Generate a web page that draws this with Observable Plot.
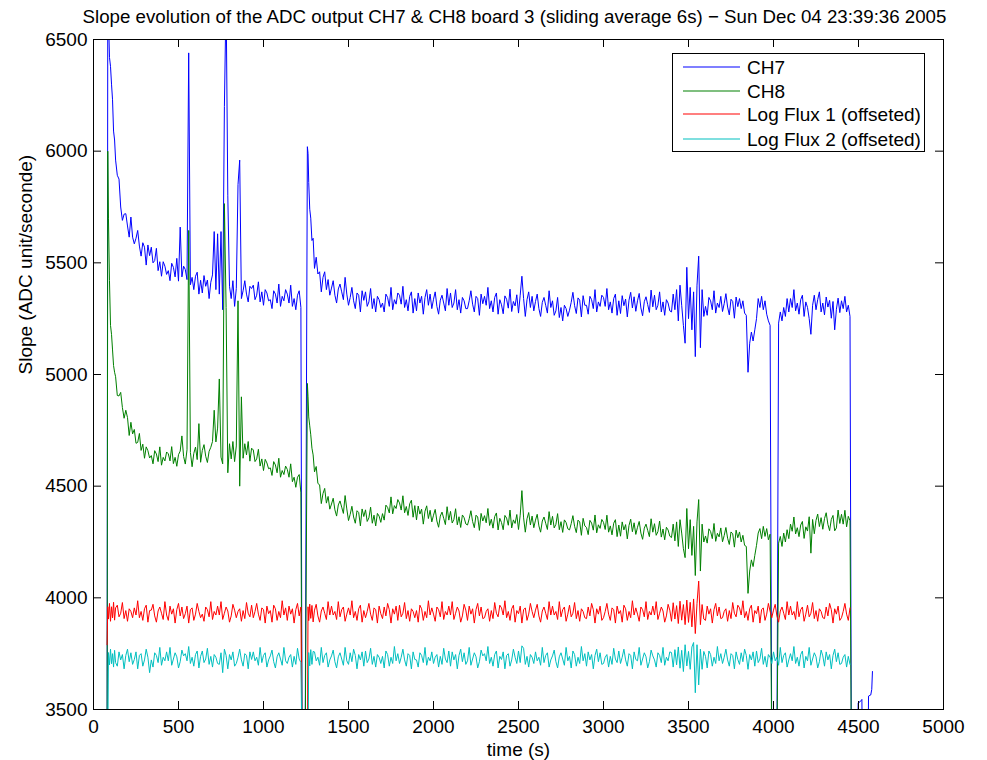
<!DOCTYPE html>
<html>
<head>
<meta charset="utf-8">
<script src="https://cdn.jsdelivr.net/npm/d3@7"></script>
<script src="https://cdn.jsdelivr.net/npm/@observablehq/plot@0.6"></script>
<style>
  html, body { margin: 0; padding: 0; background: #fff; }
  #wrap { position: relative; width: 987px; height: 760px; }
  #legend { position: absolute; left: 672px; top: 53px; }
</style>
</head>
<body>
<div id="wrap"></div>
<script>
// Time stamps (s) of the sliding-average samples
const time = [
  80, 84, 88, 94, 100, 106, 112, 118, 124, 130,
  140, 150, 160, 170, 180, 190, 200, 210, 220, 230,
  240, 250, 260, 270, 280, 290, 300, 310, 320, 330,
  340, 350, 360, 370, 380, 390, 400, 410, 420, 430,
  440, 450, 460, 470, 480, 490, 500, 510, 520, 530,
  540, 550, 560, 570, 580, 590, 600, 610, 620, 630,
  640, 650, 660, 670, 680, 690, 700, 710, 720, 730,
  740, 750, 760, 770, 780, 790, 800, 810, 820, 830,
  840, 850, 860, 870, 880, 890, 900, 910, 920, 930,
  940, 950, 960, 970, 980, 990, 1000, 1010, 1020, 1030,
  1040, 1050, 1060, 1070, 1080, 1090, 1100, 1110, 1120, 1130,
  1140, 1150, 1160, 1170, 1180, 1190, 1200, 1210, 1220,
  1227, 1245, 1258, 1262, 1266, 1272, 1278, 1285, 1292,
  1300, 1310, 1320, 1330, 1340, 1350, 1360, 1370, 1380, 1390,
  1400, 1410, 1420, 1430, 1440, 1450, 1460, 1470, 1480, 1490,
  1500, 1510, 1520, 1530, 1540, 1550, 1560, 1570, 1580, 1590,
  1600, 1610, 1620, 1630, 1640, 1650, 1660, 1670, 1680, 1690,
  1700, 1710, 1720, 1730, 1740, 1750, 1760, 1770, 1780, 1790,
  1800, 1810, 1820, 1830, 1840, 1850, 1860, 1870, 1880, 1890,
  1900, 1910, 1920, 1930, 1940, 1950, 1960, 1970, 1980, 1990,
  2000, 2010, 2020, 2030, 2040, 2050, 2060, 2070, 2080, 2090,
  2100, 2110, 2120, 2130, 2140, 2150, 2160, 2170, 2180, 2190,
  2200, 2210, 2220, 2230, 2240, 2250, 2260, 2270, 2280, 2290,
  2300, 2310, 2320, 2330, 2340, 2350, 2360, 2370, 2380, 2390,
  2400, 2410, 2420, 2430, 2440, 2450, 2460, 2470, 2480, 2490,
  2500, 2510, 2520, 2530, 2540, 2550, 2560, 2570, 2580, 2590,
  2600, 2610, 2620, 2630, 2640, 2650, 2660, 2670, 2680, 2690,
  2700, 2710, 2720, 2730, 2740, 2750, 2760, 2770, 2780, 2790,
  2800, 2810, 2820, 2830, 2840, 2850, 2860, 2870, 2880, 2890,
  2900, 2910, 2920, 2930, 2940, 2950, 2960, 2970, 2980, 2990,
  3000, 3010, 3020, 3030, 3040, 3050, 3060, 3070, 3080, 3090,
  3100, 3110, 3120, 3130, 3140, 3150, 3160, 3170, 3180, 3190,
  3200, 3210, 3220, 3230, 3240, 3250, 3260, 3270, 3280, 3290,
  3300, 3310, 3320, 3330, 3340, 3350, 3360, 3370, 3380, 3390,
  3400, 3410, 3420, 3430, 3440, 3450, 3460, 3470, 3480, 3490,
  3500, 3510, 3520, 3530, 3540, 3550, 3560, 3570, 3580, 3590,
  3600, 3610, 3620, 3630, 3640, 3650, 3660, 3670, 3680, 3690,
  3700, 3710, 3720, 3730, 3740, 3750, 3760, 3770, 3780, 3790,
  3800, 3810, 3820, 3830, 3840, 3850, 3860, 3870, 3880, 3890,
  3900, 3910, 3920, 3930, 3940, 3950, 3960, 3970, 3980, 3990,
  4000, 4010, 4020, 4030, 4040, 4050, 4060, 4070, 4080, 4090,
  4100, 4110, 4120, 4130, 4140, 4150, 4160, 4170, 4180, 4190,
  4200, 4210, 4220, 4230, 4240, 4250, 4260, 4270, 4280, 4290,
  4300, 4310, 4320, 4330, 4340, 4350, 4360, 4370, 4380, 4390,
  4400, 4410, 4420, 4430, 4440, 4450,
  4458, 4470, 4495, 4498, 4510, 4520, 4523, 4556, 4559, 4572, 4578, 4582
];

// CH7 slope (ADC unit / s)
const ch7 = [
  3300, 6700, 6600, 6420, 6380, 6300, 6230, 6090, 6050, 5960,
  5892, 5875, 5750, 5690, 5718, 5720, 5665, 5615, 5705, 5615,
  5585, 5610, 5645, 5575, 5530, 5590, 5570, 5490, 5580, 5532,
  5570, 5500, 5510, 5565, 5465, 5505, 5440, 5505, 5485, 5448,
  5465, 5420, 5498, 5480, 5437, 5520, 5418, 5660, 5437, 5485,
  5470, 5425, 6440, 5402, 5435, 5380, 5440, 5458, 5360, 5422,
  5365, 5443, 5395, 5423, 5340, 5413, 5446, 5640, 5380, 5630,
  5360, 5640, 5290, 6200, 6700, 5800, 5395, 5340, 5420, 5305,
  5385, 5850, 5960, 5340, 5375, 5420, 5360, 5325, 5395, 5385,
  5400, 5335, 5355, 5415, 5325, 5370, 5310, 5380, 5365, 5330,
  5335, 5295, 5375, 5360, 5320, 5405, 5305, 5350, 5330, 5380,
  5360, 5320, 5400, 5305, 5340, 5290, 5355, 5375, 5300,
  3300, 3300, 6020, 5990, 5860, 5740, 5700, 5600, 5610,
  5475, 5525, 5450, 5460, 5370, 5435, 5460, 5380, 5425, 5355,
  5387, 5420, 5355, 5320, 5383, 5405, 5370, 5335, 5435, 5360,
  5310, 5345, 5390, 5330, 5295, 5365, 5355, 5280, 5375, 5332,
  5370, 5305, 5325, 5385, 5295, 5340, 5280, 5350, 5335, 5300,
  5320, 5280, 5360, 5345, 5305, 5390, 5290, 5335, 5315, 5365,
  5355, 5315, 5395, 5300, 5335, 5285, 5350, 5370, 5275, 5340,
  5285, 5365, 5320, 5350, 5270, 5345, 5380, 5310, 5360, 5295,
  5337, 5370, 5305, 5270, 5333, 5355, 5320, 5285, 5385, 5310,
  5365, 5300, 5320, 5380, 5290, 5335, 5275, 5345, 5330, 5295,
  5295, 5330, 5375, 5315, 5280, 5350, 5340, 5265, 5360, 5317,
  5350, 5310, 5390, 5295, 5330, 5280, 5345, 5365, 5270, 5335,
  5312, 5272, 5352, 5337, 5297, 5382, 5282, 5327, 5307, 5357,
  5275, 5355, 5440, 5340, 5260, 5335, 5370, 5300, 5350, 5285,
  5327, 5360, 5295, 5260, 5323, 5345, 5310, 5275, 5375, 5300,
  5330, 5265, 5285, 5345, 5255, 5300, 5240, 5310, 5295, 5260,
  5288, 5323, 5368, 5308, 5273, 5343, 5333, 5258, 5353, 5310,
  5310, 5270, 5350, 5335, 5295, 5380, 5280, 5325, 5305, 5355,
  5345, 5305, 5385, 5290, 5325, 5275, 5340, 5360, 5265, 5330,
  5273, 5353, 5308, 5338, 5258, 5333, 5368, 5298, 5348, 5283,
  5330, 5363, 5298, 5263, 5326, 5348, 5313, 5278, 5378, 5303,
  5355, 5290, 5310, 5370, 5280, 5325, 5265, 5335, 5320, 5285,
  5280, 5360, 5290, 5380, 5240, 5400, 5310, 5220, 5140, 5480,
  5250, 5390, 5200, 5370, 5080, 5400, 5530, 5120, 5380, 5260,
  5305, 5265, 5345, 5330, 5290, 5375, 5275, 5320, 5300, 5350,
  5282, 5317, 5362, 5302, 5267, 5337, 5327, 5252, 5347, 5304,
  5340, 5295, 5330, 5275, 5265, 5010, 5140, 5190, 5150, 5200,
  5250, 5340, 5300, 5350, 5290, 5330, 5270, 5240, 5220, 3300,
  3300, 3300, 3300, 5230, 5280, 5240, 5300, 5260, 5340, 5280,
  5340, 5300, 5380, 5285, 5320, 5270, 5335, 5355, 5260, 5325,
  5300, 5250, 5180, 5310, 5355, 5290, 5335, 5370, 5280, 5320,
  5267, 5347, 5302, 5332, 5252, 5327, 5200, 5292, 5342, 5277,
  5330, 5295, 5350, 5280, 5310, 5260,
  3300, 3300, 3300, 3530, 3535, 3545, 3300, 3300, 3560, 3565, 3590, 3670
];

// CH8 slope (ADC unit / s)
const ch8 = [
  3300, 6000, 5700, 5420, 5220, 5180, 5110, 5040, 5010, 4990,
  4906, 4904, 4920, 4852, 4804, 4840, 4807, 4727, 4786, 4734,
  4754, 4692, 4696, 4736, 4660, 4688, 4625, 4676, 4659, 4626,
  4637, 4600, 4659, 4644, 4610, 4676, 4594, 4629, 4613, 4653,
  4645, 4613, 4677, 4601, 4629, 4589, 4641, 4657, 4725, 4633,
  4599, 4663, 5645, 4651, 4587, 4647, 4675, 4619, 4780, 4607,
  4660, 4686, 4634, 4606, 4656, 4674, 4700, 4840, 4698, 4760,
  4980, 4630, 4600, 5765, 5300, 4560, 4690, 4622, 4700, 4610,
  4680, 5330, 4500, 4900, 4625, 4690, 4640, 4700, 4612, 4670,
  4662, 4610, 4622, 4665, 4590, 4622, 4570, 4620, 4604, 4578,
  4582, 4548, 4610, 4595, 4560, 4625, 4540, 4570, 4552, 4590,
  4575, 4540, 4600, 4520, 4540, 4495, 4540, 4552, 4470,
  3300, 3300, 4960, 4900, 4810, 4770, 4730, 4670, 4640,
  4564, 4588, 4512, 4506, 4422, 4467, 4490, 4424, 4454, 4397,
  4420, 4446, 4394, 4366, 4416, 4434, 4406, 4378, 4458, 4398,
  4346, 4374, 4410, 4362, 4334, 4390, 4382, 4322, 4398, 4364,
  4394, 4342, 4358, 4406, 4334, 4370, 4322, 4378, 4366, 4338,
  4377, 4348, 4415, 4405, 4380, 4452, 4376, 4413, 4400, 4440,
  4425, 4393, 4457, 4381, 4409, 4369, 4421, 4437, 4361, 4413,
  4349, 4411, 4375, 4397, 4330, 4388, 4412, 4355, 4392, 4340,
  4370, 4396, 4344, 4316, 4366, 4384, 4356, 4328, 4408, 4348,
  4387, 4335, 4351, 4399, 4327, 4363, 4315, 4371, 4359, 4331,
  4326, 4354, 4390, 4342, 4314, 4370, 4362, 4302, 4378, 4344,
  4368, 4336, 4400, 4324, 4352, 4312, 4364, 4380, 4304, 4356,
  4337, 4305, 4369, 4357, 4325, 4393, 4313, 4349, 4333, 4373,
  4306, 4370, 4480, 4358, 4294, 4354, 4382, 4326, 4366, 4314,
  4348, 4374, 4322, 4294, 4344, 4362, 4334, 4306, 4386, 4326,
  4365, 4313, 4329, 4377, 4305, 4341, 4293, 4349, 4337, 4309,
  4304, 4332, 4368, 4320, 4292, 4348, 4340, 4280, 4356, 4322,
  4315, 4283, 4347, 4335, 4303, 4371, 4291, 4327, 4311, 4351,
  4338, 4306, 4370, 4294, 4322, 4282, 4334, 4350, 4274, 4326,
  4276, 4340, 4304, 4328, 4264, 4324, 4352, 4296, 4336, 4284,
  4316, 4342, 4290, 4262, 4312, 4330, 4302, 4274, 4354, 4294,
  4332, 4280, 4296, 4344, 4272, 4308, 4260, 4316, 4304, 4276,
  4270, 4330, 4255, 4340, 4230, 4350, 4290, 4220, 4180, 4400,
  4220, 4350, 4190, 4320, 4100, 4340, 4440, 4120, 4330, 4250,
  4277, 4245, 4309, 4297, 4265, 4333, 4253, 4289, 4273, 4313,
  4251, 4279, 4315, 4267, 4239, 4295, 4287, 4227, 4303, 4269,
  4295, 4250, 4280, 4235, 4230, 4020, 4120, 4170, 4140, 4190,
  4235, 4290, 4310, 4265, 4320, 4275, 4310, 4260, 4285, 3300,
  3300, 3300, 3300, 4245, 4275, 4230, 4290, 4250, 4305, 4265,
  4330, 4298, 4362, 4286, 4314, 4274, 4326, 4342, 4266, 4318,
  4299, 4363, 4200, 4351, 4287, 4347, 4375, 4319, 4359, 4307,
  4355, 4381, 4329, 4301, 4351, 4369, 4300, 4313, 4393, 4333,
  4374, 4330, 4392, 4318, 4365, 4345,
  3300, null, null, null, null, null, null, null, null, null, null, null
];

// Log flux 1, offset onto the slope axis
const flux1 = [
  3790, 3960, 3905, 3975, 3895, 3960, 3910, 3980, 3900, 3955,
  3967, 3915, 3931, 3979, 3907, 3943, 3895, 3951, 3939, 3911,
  3955, 3923, 3987, 3911, 3939, 3899, 3951, 3967, 3891, 3943,
  3945, 3971, 3919, 3891, 3941, 3959, 3931, 3903, 3983, 3923,
  3899, 3963, 3927, 3951, 3887, 3947, 3975, 3919, 3959, 3907,
  3929, 3963, 3887, 3947, 3955, 3899, 3927, 3975, 3939, 3911,
  3927, 3895, 3959, 3947, 3915, 3983, 3903, 3939, 3923, 3963,
  3923, 3983, 3903, 3931, 3959, 3941, 3891, 3919, 3971, 3945,
  3911, 3939, 3951, 3895, 3943, 3907, 3979, 3931, 3915, 3967,
  3911, 3939, 3975, 3927, 3899, 3955, 3947, 3887, 3963, 3929,
  3943, 3891, 3967, 3951, 3899, 3939, 3911, 3987, 3923, 3955,
  3899, 3963, 3927, 3951, 3887, 3947, 3975, 3919, 3959,
  3300, 3300, 3300, 3960, 3898, 3972, 3908, 3966, 3892,
  3945, 3971, 3919, 3891, 3941, 3959, 3931, 3903, 3983, 3923,
  3963, 3923, 3939, 3903, 3983, 3915, 3947, 3959, 3895, 3927,
  3955, 3923, 3987, 3911, 3939, 3899, 3951, 3967, 3891, 3943,
  3911, 3939, 3975, 3927, 3899, 3955, 3947, 3887, 3963, 3929,
  3907, 3959, 3919, 3975, 3947, 3887, 3951, 3927, 3963, 3899,
  3967, 3915, 3931, 3979, 3907, 3943, 3895, 3951, 3939, 3911,
  3943, 3891, 3967, 3951, 3899, 3939, 3911, 3987, 3923, 3955,
  3927, 3895, 3959, 3947, 3915, 3983, 3903, 3939, 3923, 3963,
  3923, 3983, 3903, 3931, 3959, 3941, 3891, 3919, 3971, 3945,
  3899, 3963, 3927, 3951, 3887, 3947, 3975, 3919, 3959, 3907,
  3911, 3939, 3951, 3895, 3943, 3907, 3979, 3931, 3915, 3967,
  3955, 3923, 3987, 3911, 3939, 3899, 3951, 3967, 3891, 3943,
  3929, 3963, 3887, 3947, 3955, 3899, 3927, 3975, 3939, 3911,
  3945, 3971, 3919, 3891, 3941, 3959, 3931, 3903, 3983, 3923,
  3963, 3923, 3939, 3903, 3983, 3915, 3947, 3959, 3895, 3927,
  3967, 3915, 3931, 3979, 3907, 3943, 3895, 3951, 3939, 3911,
  3907, 3959, 3919, 3975, 3947, 3887, 3951, 3927, 3963, 3899,
  3911, 3939, 3975, 3927, 3899, 3955, 3947, 3887, 3963, 3929,
  3943, 3891, 3967, 3951, 3899, 3939, 3911, 3987, 3923, 3955,
  3927, 3895, 3959, 3947, 3915, 3983, 3903, 3939, 3923, 3963,
  3923, 3983, 3903, 3931, 3959, 3941, 3891, 3919, 3971, 3945,
  3895, 3978, 3905, 3965, 3885, 3985, 3900, 3970, 3880, 3990,
  3890, 3980, 3870, 3995, 3840, 3975, 4075, 3880, 3970, 3905,
  3899, 3963, 3927, 3951, 3887, 3947, 3975, 3919, 3959, 3907,
  3911, 3939, 3951, 3895, 3943, 3907, 3979, 3931, 3915, 3967,
  3955, 3923, 3987, 3911, 3939, 3899, 3951, 3967, 3891, 3943,
  3929, 3963, 3887, 3947, 3955, 3899, 3927, 3975, 3939, 3911,
  3945, 3971, 3919, 3891, 3941, 3959, 3931, 3903, 3983, 3923,
  3963, 3923, 3939, 3903, 3983, 3915, 3947, 3959, 3895, 3927,
  3967, 3915, 3931, 3979, 3907, 3943, 3895, 3951, 3939, 3911,
  3907, 3959, 3919, 3975, 3947, 3887, 3951, 3927, 3963, 3899,
  3911, 3939, 3975, 3927, 3899, 3955,
  null, null, null, null, null, null, null, null, null, null, null, null
];

// Log flux 2, offset onto the slope axis
const flux2 = [
  3300, 3300, 3755, 3700, 3770, 3705, 3750, 3690, 3765, 3710,
  3694, 3758, 3722, 3746, 3682, 3742, 3770, 3714, 3754, 3702,
  3724, 3758, 3682, 3742, 3750, 3694, 3722, 3770, 3734, 3665,
  3722, 3690, 3754, 3742, 3710, 3778, 3698, 3734, 3718, 3758,
  3718, 3778, 3698, 3726, 3754, 3736, 3686, 3714, 3766, 3740,
  3750, 3718, 3782, 3706, 3734, 3694, 3746, 3762, 3686, 3738,
  3762, 3710, 3726, 3774, 3702, 3738, 3690, 3746, 3734, 3706,
  3702, 3754, 3665, 3770, 3742, 3682, 3746, 3722, 3758, 3694,
  3706, 3734, 3770, 3722, 3694, 3750, 3742, 3682, 3758, 3724,
  3758, 3718, 3734, 3698, 3778, 3710, 3742, 3754, 3690, 3722,
  3740, 3766, 3714, 3686, 3736, 3754, 3726, 3698, 3778, 3718,
  3706, 3734, 3746, 3690, 3738, 3702, 3774, 3726, 3710,
  3300, 3300, 3300, 3300, 3755, 3695, 3768, 3702, 3760,
  3758, 3718, 3734, 3698, 3778, 3710, 3742, 3754, 3690, 3722,
  3740, 3766, 3714, 3686, 3736, 3754, 3726, 3698, 3778, 3718,
  3702, 3754, 3714, 3770, 3742, 3682, 3746, 3722, 3758, 3694,
  3762, 3710, 3726, 3774, 3702, 3738, 3690, 3746, 3734, 3706,
  3738, 3686, 3762, 3746, 3694, 3734, 3706, 3782, 3718, 3750,
  3706, 3734, 3770, 3722, 3694, 3750, 3742, 3682, 3758, 3724,
  3722, 3690, 3754, 3742, 3710, 3778, 3698, 3734, 3718, 3758,
  3706, 3734, 3746, 3690, 3738, 3702, 3774, 3726, 3710, 3762,
  3694, 3758, 3722, 3746, 3682, 3742, 3770, 3714, 3754, 3702,
  3718, 3778, 3698, 3726, 3754, 3736, 3686, 3714, 3766, 3740,
  3750, 3718, 3782, 3706, 3734, 3694, 3746, 3762, 3686, 3738,
  3724, 3758, 3682, 3742, 3750, 3694, 3722, 3770, 3734, 3706,
  3762, 3710, 3785, 3774, 3702, 3738, 3690, 3746, 3734, 3706,
  3758, 3718, 3734, 3698, 3778, 3710, 3742, 3754, 3690, 3722,
  3740, 3766, 3714, 3686, 3736, 3754, 3726, 3698, 3778, 3718,
  3738, 3686, 3762, 3746, 3694, 3734, 3706, 3782, 3718, 3750,
  3694, 3758, 3722, 3746, 3682, 3742, 3770, 3714, 3754, 3702,
  3706, 3734, 3746, 3690, 3738, 3702, 3774, 3726, 3710, 3762,
  3706, 3734, 3770, 3722, 3694, 3750, 3742, 3682, 3758, 3724,
  3718, 3778, 3698, 3726, 3754, 3736, 3686, 3714, 3766, 3740,
  3722, 3690, 3754, 3742, 3710, 3778, 3698, 3734, 3718, 3758,
  3755, 3690, 3768, 3700, 3780, 3685, 3765, 3670, 3790, 3695,
  3760, 3680, 3780, 3800, 3575, 3790, 3610, 3770, 3680, 3760,
  3738, 3686, 3762, 3746, 3694, 3734, 3706, 3782, 3718, 3750,
  3706, 3734, 3770, 3722, 3694, 3750, 3742, 3682, 3758, 3724,
  3702, 3754, 3714, 3770, 3742, 3680, 3746, 3722, 3758, 3694,
  3762, 3710, 3726, 3774, 3702, 3738, 3690, 3746, 3734, 3706,
  3758, 3718, 3734, 3698, 3778, 3710, 3742, 3754, 3690, 3722,
  3750, 3718, 3782, 3706, 3734, 3694, 3746, 3762, 3686, 3738,
  3718, 3778, 3698, 3726, 3754, 3736, 3686, 3714, 3766, 3740,
  3694, 3758, 3722, 3746, 3682, 3742, 3770, 3714, 3754, 3702,
  3706, 3734, 3746, 3690, 3738, 3702,
  null, null, null, null, null, null, null, null, null, null, null, null
];

const seriesNames = ["CH7", "CH8", "Log Flux 1 (offseted)", "Log Flux 2 (offseted)"];
const seriesColors = ["#0000ff", "#008000", "#ff0000", "#00bfbf"];
const xTicks = [0, 500, 1000, 1500, 2000, 2500, 3000, 3500, 4000, 4500, 5000];
const yTicks = [3500, 4000, 4500, 5000, 5500, 6000, 6500];

const titleText = "Slope evolution of the ADC output CH7 & CH8 board 3 (sliding average 6s) \u2212 Sun Dec 04 23:39:36 2005";
const xLabel = "time (s)";
const yLabel = "Slope (ADC unit/seconde)";

const FONT = "'Liberation Sans', Arial, Helvetica, sans-serif";
const W = 987, H = 760;
const mL = 93, mR = 44, mT = 39, mB = 51;
const innerW = W - mL - mR, innerH = H - mT - mB;
const tickLen = 8;

const series = [ch7, ch8, flux1, flux2];

const chart = Plot.plot({
  width: W,
  height: H,
  marginLeft: mL,
  marginRight: mR,
  marginTop: mT,
  marginBottom: mB,
  style: { fontFamily: FONT, fontSize: "19px", background: "#fff", color: "#000" },
  x: { domain: [0, 5000] },
  y: { domain: [3500, 6500] },
  marks: [
    ...series.map((values, i) => Plot.line(time, { x: time, y: values, stroke: seriesColors[i], strokeWidth: 1, clip: true })),
    // inward ticks on all four sides of the box
    Plot.tickX(xTicks, { x: d => d, insetTop: innerH - tickLen, stroke: "#000" }),
    Plot.tickX(xTicks, { x: d => d, insetBottom: innerH - tickLen, stroke: "#000" }),
    Plot.tickY(yTicks, { y: d => d, insetRight: innerW - tickLen, stroke: "#000" }),
    Plot.tickY(yTicks, { y: d => d, insetLeft: innerW - tickLen, stroke: "#000" }),
    Plot.axisX(xTicks, { tickSize: 0, tickPadding: 10, tickFormat: "d", label: null, fontSize: 19 }),
    Plot.axisY(yTicks, { tickSize: 0, tickPadding: 6, tickFormat: "d", label: null, fontSize: 19 }),
    Plot.frame({ stroke: "#000" }),
    Plot.text([titleText], { frameAnchor: "top", dx: -4, dy: -22, lineAnchor: "middle", fontSize: 18.7, fill: "#000" }),
    Plot.text([xLabel], { frameAnchor: "bottom", dy: 40, lineAnchor: "middle", fontSize: 19, fill: "#000" }),
    Plot.text([yLabel], { frameAnchor: "left", dx: -68, rotate: -90, lineAnchor: "middle", fontSize: 19, fill: "#000" })
  ]
});

const wrap = document.getElementById("wrap");
wrap.appendChild(chart);

// legend box in the upper right corner of the axes
const legW = 253, legH = 99;
const rowY = [14, 38, 61, 86];
const legend = d3.create("svg")
  .attr("id", "legend")
  .attr("width", legW)
  .attr("height", legH)
  .style("font-family", FONT)
  .style("font-size", "19px");
legend.append("rect")
  .attr("x", 0.5).attr("y", 0.5)
  .attr("width", legW - 1).attr("height", legH - 1)
  .attr("fill", "#fff").attr("stroke", "#000");
seriesNames.forEach((name, i) => {
  legend.append("line")
    .attr("x1", 11).attr("x2", 68)
    .attr("y1", rowY[i]).attr("y2", rowY[i])
    .attr("stroke", seriesColors[i]).attr("stroke-width", 1.2);
  legend.append("text")
    .attr("x", 75).attr("y", rowY[i])
    .attr("dy", "0.35em")
    .attr("fill", "#000")
    .text(name);
});
wrap.appendChild(legend.node());
</script>
</body>
</html>
